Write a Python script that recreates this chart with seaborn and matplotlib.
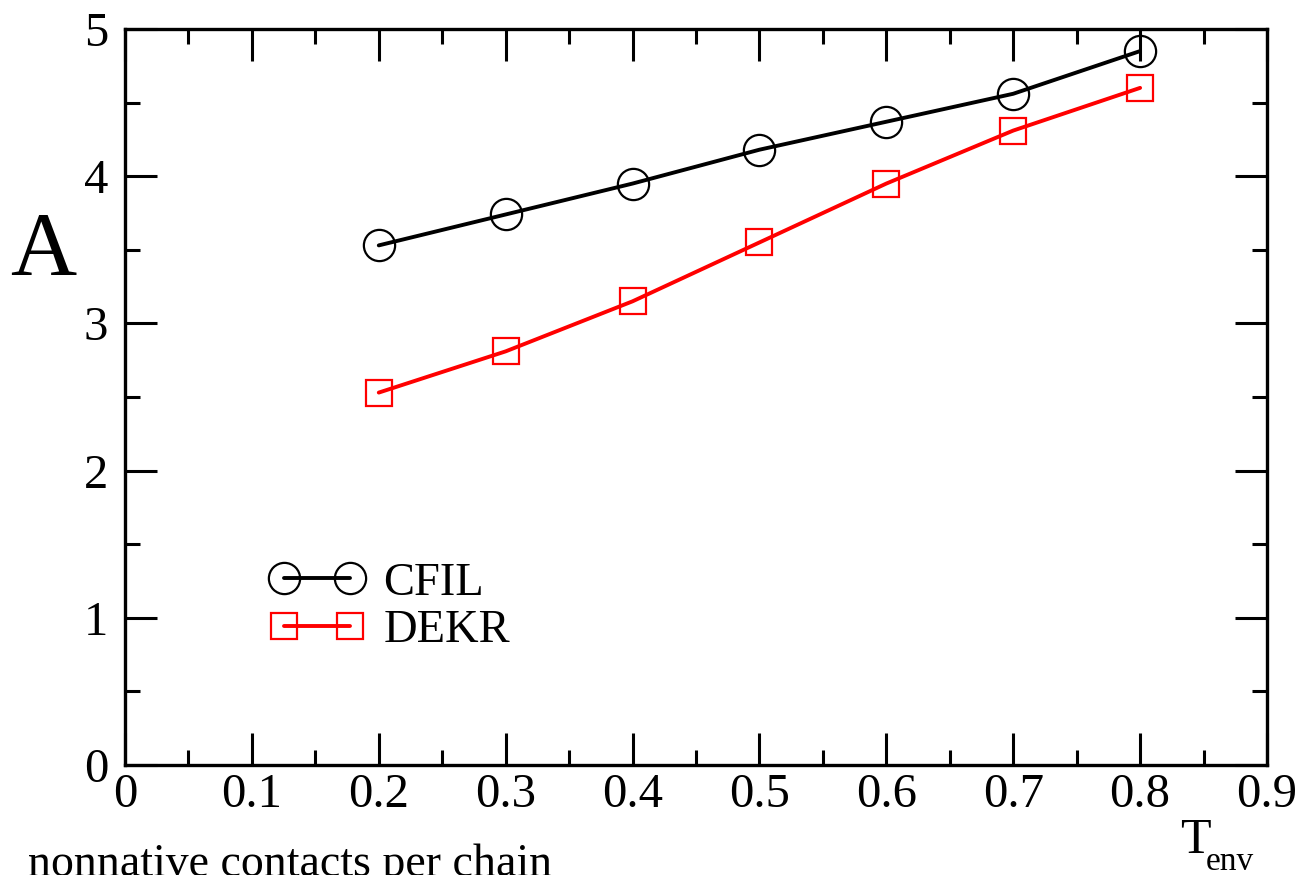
import matplotlib
matplotlib.use("Agg")
import matplotlib.pyplot as plt
from matplotlib.legend_handler import HandlerLine2D
import seaborn as sns
import pandas as pd

# ---- data ----
t_env = [0.2, 0.3, 0.4, 0.5, 0.6, 0.7, 0.8]
cfil = [3.53, 3.74, 3.95, 4.18, 4.37, 4.56, 4.85]
dekr = [2.53, 2.81, 3.15, 3.55, 3.95, 4.31, 4.60]
series_names = ["CFIL", "DEKR"]
x_ticks = [0, 0.1, 0.2, 0.3, 0.4, 0.5, 0.6, 0.7, 0.8, 0.9]
x_tick_labels = ["0", "0.1", "0.2", "0.3", "0.4", "0.5", "0.6", "0.7", "0.8", "0.9"]
y_ticks = [0, 1, 2, 3, 4, 5]
y_tick_labels = ["0", "1", "2", "3", "4", "5"]

sns.set_theme(style="ticks")
plt.rcParams["font.family"] = ["Liberation Serif", "DejaVu Serif"]
plt.rcParams["text.color"] = "black"
plt.rcParams["xtick.color"] = "black"
plt.rcParams["ytick.color"] = "black"

W, H = 1301, 875
fig = plt.figure(figsize=(W / 100, H / 100), dpi=100)
fig.patch.set_facecolor("white")
ax = fig.add_axes([125 / W, (H - 765) / H, (1267 - 125) / W, (765 - 29) / H])
ax.set_facecolor("white")

df_c = pd.DataFrame({"T": t_env, "A": cfil})
df_d = pd.DataFrame({"T": t_env, "A": dekr})

sns.lineplot(data=df_c, x="T", y="A", ax=ax, color="black", linewidth=2.8,
             marker="o", markersize=22.5, markerfacecolor="none",
             markeredgecolor="black", markeredgewidth=1.6, label=series_names[0])
sns.lineplot(data=df_d, x="T", y="A", ax=ax, color="#ff0000", linewidth=2.8,
             marker="s", markersize=19, markerfacecolor="none",
             markeredgecolor="#ff0000", markeredgewidth=1.6, label=series_names[1])
for ln, c in zip(ax.lines, ["black", "#ff0000"]):
    ln.set_markerfacecolor("none")
    ln.set_markeredgecolor(c)
    ln.set_markeredgewidth(1.6)
    ln.set_clip_on(False)

ax.set_xlim(0, 0.9)
ax.set_ylim(0, 5)
ax.set_xticks(x_ticks)
ax.set_xticklabels(x_tick_labels)
ax.set_yticks(y_ticks)
ax.set_yticklabels(y_tick_labels)
ax.set_xticks([0.05 + 0.1 * i for i in range(9)], minor=True)
ax.set_yticks([0.5 + i for i in range(5)], minor=True)
ax.set_xlabel("")
ax.set_ylabel("")

for s in ax.spines.values():
    s.set_visible(True)
    s.set_linewidth(2.4)
    s.set_color("black")

ax.tick_params(which="both", direction="in", top=True, right=True,
               width=2.2, colors="black", labelcolor="black")
ax.tick_params(which="major", length=23)
ax.tick_params(which="minor", length=11)
ax.tick_params(axis="x", which="major", labelsize=35, pad=6)
ax.tick_params(axis="y", which="major", labelsize=35, pad=12)

handles, labels = ax.get_legend_handles_labels()
leg = ax.legend(handles, labels, loc="upper left",
                bbox_to_anchor=(284 / W, (H - 562) / H),
                bbox_transform=fig.transFigure, frameon=False, fontsize=33.5,
                numpoints=2, handlelength=1.42, handletextpad=0.72,
                labelspacing=0.1, borderpad=0, borderaxespad=0,
                handler_map={h: HandlerLine2D(marker_pad=0) for h in handles})
for t in leg.get_texts():
    t.set_color("black")

fig.text(10 / W, (H - 275) / H, "A", fontsize=66, ha="left", va="baseline")
fig.text(28 / W, (H - 876) / H, "nonnative contacts per chain", fontsize=33,
         ha="left", va="baseline")
fig.text(1180 / W, (H - 853) / H, "T", fontsize=36, ha="left", va="baseline")
fig.text(1206 / W, (H - 870) / H, "env", fontsize=24, ha="left", va="baseline")

fig.savefig("out.png", dpi=100, facecolor="white")
